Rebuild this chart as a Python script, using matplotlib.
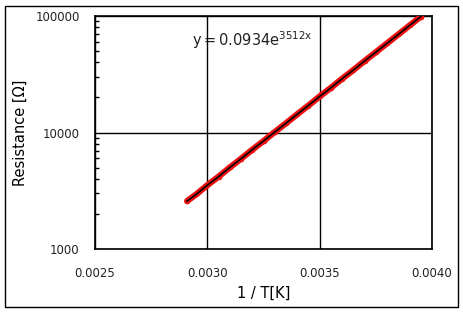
import matplotlib
matplotlib.use("Agg")
import matplotlib.pyplot as plt
from matplotlib.patches import Rectangle
from matplotlib.ticker import FixedLocator, NullFormatter

# measured points (1/T and resistance)
inv_t = [0.00291, 0.00295, 0.00300, 0.00305, 0.00310, 0.00315, 0.00320,
         0.00325, 0.00330, 0.00335, 0.00340, 0.00345, 0.00350, 0.00355,
         0.00360, 0.00365, 0.00370, 0.00375, 0.00380, 0.00385, 0.00390,
         0.00395]
resistance = [2580, 2940, 3530, 4180, 5010, 5950, 7120, 8450, 10100, 12000,
              14350, 17050, 20400, 24200, 28950, 34400, 41100, 48900, 58300,
              69400, 82900, 98800]

x_ticks = [0.0025, 0.0030, 0.0035, 0.0040]
x_labels = ["0.0025", "0.0030", "0.0035", "0.0040"]
y_ticks = [1000, 10000, 100000]
y_labels = ["1000", "10000", "100000"]

fig = plt.figure(figsize=(4.64, 3.13), dpi=100)
fig.patches.append(Rectangle((5 / 464, 6 / 313), 453 / 464, 301 / 313,
                             transform=fig.transFigure, fill=False,
                             edgecolor="black", linewidth=1))
ax = fig.add_axes([95 / 464, 1 - 249 / 313, 337 / 464, 233 / 313])

ax.plot(inv_t, resistance, color="#ee1111", linewidth=4.5,
        solid_capstyle="round", zorder=3)
ax.plot(inv_t, resistance, "o", color="#ee1111", markersize=3, zorder=3)
ax.plot(inv_t, resistance, color="black", linewidth=1.2, zorder=4)

ax.set_yscale("log")
ax.set_xlim(0.0025, 0.0040)
ax.set_ylim(1000, 100000)
ax.set_xticks(x_ticks)
ax.set_xticklabels(x_labels)
ax.set_yticks(y_ticks)
ax.set_yticklabels(y_labels)
ax.yaxis.set_minor_locator(FixedLocator(
    [m * 10 ** e for e in (3, 4) for m in range(2, 10)]))
ax.yaxis.set_minor_formatter(NullFormatter())

ax.grid(True, which="major", color="black", linewidth=1)
for s in ax.spines.values():
    s.set_linewidth(1.2)

ax.tick_params(axis="x", which="major", length=0, pad=13,
               labelsize=8.5, labelcolor="#222222")
ax.tick_params(axis="y", which="major", length=0, pad=11,
               labelsize=8.5, labelcolor="#222222")
ax.tick_params(axis="y", which="minor", direction="in", length=3,
               width=1)

ax.set_xlabel("1 / T[K]", fontsize=10.5, labelpad=4)
ax.set_ylabel("Resistance [\u03a9]", fontsize=10.5)
ax.yaxis.set_label_coords(-67 / 337, 0.5)

ax.text(0.00293, 62000, r"$\mathregular{y = 0.0934e^{3512x}}$",
        fontsize=10.5, ha="left", va="center", color="#222222")

fig.savefig("out.png", dpi=100)
